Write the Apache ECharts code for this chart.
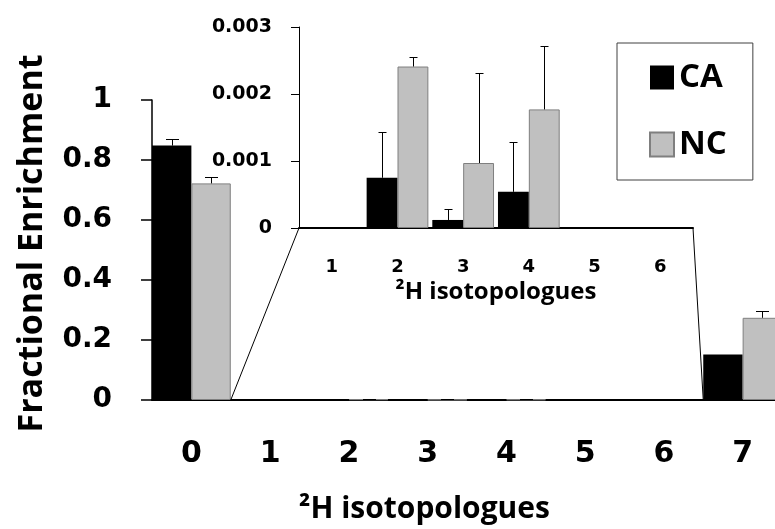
<!DOCTYPE html>
<html>
<head>
<meta charset="utf-8">
<script src="https://cdn.jsdelivr.net/npm/echarts@6/dist/echarts.min.js"></script>
<style>
  html, body { margin: 0; padding: 0; background: #fff; }
  #main { width: 775px; height: 529px; }
</style>
</head>
<body>
<div id="main"></div>
<script>
// main chart data (isotopologues 0..7)
const categories = ["0", "1", "2", "3", "4", "5", "6", "7"];
const caValues = [0.848, 0, 0.00075, 0.00012, 0.00054, 0, 0, 0.152];
const ncValues = [0.722, 0, 0.00241, 0.00097, 0.00177, 0, 0, 0.274];
const caErr = [0.021, 0, 0.00069, 0.00016, 0.00074, 0, 0, 0];
const ncErr = [0.022, 0, 0.00014, 0.00135, 0.00094, 0, 0, 0.024];

// inset: zoom on isotopologues 1..6
const insetCategories = ["1", "2", "3", "4", "5", "6"];
const insetCa = caValues.slice(1, 7);
const insetNc = ncValues.slice(1, 7);
const insetCaErr = caErr.slice(1, 7);
const insetNcErr = ncErr.slice(1, 7);

const titleFont = "Open Sans";
const digitFont = "DejaVu Sans";
const grey = "#c0c0c0";
const greyBorder = "#7f7f7f";

// empty bars (value 0) are left out so no border line is drawn on the axis
const noZero = (arr) => arr.map((v) => (v === 0 ? "-" : v));

// error bar (upper whisker only) drawn over a grouped bar
function errorSeries(axisIdx, values, errs, side, gapRatio, capW) {
  return {
    type: "custom",
    xAxisIndex: axisIdx,
    yAxisIndex: axisIdx,
    silent: true,
    z: 5,
    data: values.map((v, i) => [i, v, v + errs[i]]),
    renderItem: function (params, api) {
      const v = api.value(1);
      const top = api.value(2);
      if (!(v > 0) || !(top > v)) return;
      const band = api.size([1, 0])[0];
      const barW = (band * (1 - gapRatio)) / 2;
      const x = Math.round(api.coord([api.value(0), 0])[0] + (side * barW) / 2) + 0.5;
      const y1 = api.coord([api.value(0), v])[1];
      const y2 = Math.round(api.coord([api.value(0), top])[1]) + 0.5;
      return {
        type: "group",
        children: [
          { type: "line", shape: { x1: x, y1: y1, x2: x, y2: y2 }, style: { stroke: "#000", lineWidth: 1 } },
          { type: "line", shape: { x1: x - capW / 2, y1: y2, x2: x + capW / 2, y2: y2 }, style: { stroke: "#000", lineWidth: 1 } }
        ]
      };
    }
  };
}

const chart = echarts.init(document.getElementById("main"));

const options = {
  animation: false,
  backgroundColor: "#fff",
  legend: {
    data: ["CA", "NC"],
    orient: "vertical",
    left: 617,
    top: 43,
    icon: "rect",
    itemWidth: 24,
    itemHeight: 24,
    itemGap: 34,
    itemTextGap: 16,
    padding: [18, 26, 19, 32],
    borderColor: "#404040",
    borderWidth: 1,
    backgroundColor: "#fff",
    textStyle: { fontFamily: titleFont, fontWeight: "bold", fontSize: 33, color: "#000" }
  },
  // the main grid runs past the right edge on purpose (last bar is cut off)
  grid: [
    { left: 152, top: 100, width: 630, height: 300, outerBoundsMode: "none", containLabel: false },
    { left: 299, top: 27, width: 394, height: 201, outerBoundsMode: "none", containLabel: false }
  ],
  xAxis: [
    {
      type: "category",
      gridIndex: 0,
      data: categories,
      axisLine: { lineStyle: { color: "#000", width: 2 } },
      axisTick: { length: 11, lineStyle: { color: "#000", width: 1.5 } },
      axisLabel: { fontFamily: digitFont, fontWeight: "bold", fontSize: 30, color: "#000", margin: 39 },
      name: "²H isotopologues",
      nameLocation: "middle",
      nameGap: 94,
      nameTextStyle: { fontFamily: titleFont, fontWeight: "bold", fontSize: 30, color: "#000", padding: [0, 85, 0, 0] }
    },
    {
      type: "category",
      gridIndex: 1,
      data: insetCategories,
      axisLine: { lineStyle: { color: "#000", width: 2 } },
      axisTick: { length: 6, lineStyle: { color: "#000", width: 1 } },
      axisLabel: { fontFamily: digitFont, fontWeight: "bold", fontSize: 18, color: "#000", margin: 30 },
      name: "²H isotopologues",
      nameLocation: "middle",
      nameGap: 52,
      nameTextStyle: { fontFamily: titleFont, fontWeight: "bold", fontSize: 24, color: "#000" }
    }
  ],
  yAxis: [
    {
      type: "value",
      gridIndex: 0,
      min: 0,
      max: 1,
      interval: 0.2,
      splitLine: { show: false },
      axisLine: { show: true, lineStyle: { color: "#000", width: 1.5 } },
      axisTick: { show: true, length: 11, lineStyle: { color: "#000", width: 1.5 } },
      axisLabel: { fontFamily: digitFont, fontWeight: "bold", fontSize: 28, color: "#000", margin: 40 },
      name: "Fractional Enrichment",
      nameLocation: "middle",
      nameGap: 103,
      nameTextStyle: { fontFamily: titleFont, fontWeight: "bold", fontSize: 34, color: "#000", padding: [0, 0, 0, 13] }
    },
    {
      type: "value",
      gridIndex: 1,
      min: 0,
      max: 0.003,
      interval: 0.001,
      splitLine: { show: false },
      axisLine: { show: true, lineStyle: { color: "#000", width: 1 } },
      axisTick: { show: true, length: 8, lineStyle: { color: "#000", width: 1 } },
      axisLabel: { fontFamily: digitFont, fontWeight: "bold", fontSize: 19, color: "#000", margin: 27 }
    }
  ],
  series: [
    {
      name: "CA", type: "bar", xAxisIndex: 0, yAxisIndex: 0,
      barGap: "0%", barCategoryGap: "0%",
      itemStyle: { color: "#000" },
      data: noZero(caValues)
    },
    {
      name: "NC", type: "bar", xAxisIndex: 0, yAxisIndex: 0,
      barGap: "0%", barCategoryGap: "0%",
      itemStyle: { color: grey, borderColor: greyBorder, borderWidth: 1 },
      data: noZero(ncValues)
    },
    {
      name: "CA", type: "bar", xAxisIndex: 1, yAxisIndex: 1,
      barGap: "0%", barCategoryGap: "6%",
      itemStyle: { color: "#000" },
      data: noZero(insetCa)
    },
    {
      name: "NC", type: "bar", xAxisIndex: 1, yAxisIndex: 1,
      barGap: "0%", barCategoryGap: "6%",
      itemStyle: { color: grey, borderColor: greyBorder, borderWidth: 1 },
      data: noZero(insetNc)
    },
    errorSeries(0, caValues, caErr, -1, 0, 13),
    errorSeries(0, ncValues, ncErr, 1, 0, 13),
    errorSeries(1, insetCa, insetCaErr, -1, 0.06, 8),
    errorSeries(1, insetNc, insetNcErr, 1, 0.06, 8)
  ]
};

chart.setOption(options);

// connector lines from the inset's bottom corners down to the zoomed span on the main axis
function bandEdges(axisIdx, cats) {
  const p0 = chart.convertToPixel({ xAxisIndex: axisIdx, yAxisIndex: axisIdx }, [cats[0], 0]);
  const p1 = chart.convertToPixel({ xAxisIndex: axisIdx, yAxisIndex: axisIdx }, [cats[1], 0]);
  const pn = chart.convertToPixel({ xAxisIndex: axisIdx, yAxisIndex: axisIdx }, [cats[cats.length - 1], 0]);
  const half = (p1[0] - p0[0]) / 2;
  return { left: p0[0] - half, right: pn[0] + half, y: p0[1] };
}
const inset = bandEdges(1, insetCategories);
const mainLeft = chart.convertToPixel({ xAxisIndex: 0, yAxisIndex: 0 }, [insetCategories[0], 0]);
const mainRight = chart.convertToPixel({ xAxisIndex: 0, yAxisIndex: 0 }, [insetCategories[insetCategories.length - 1], 0]);
const mainBand = chart.convertToPixel({ xAxisIndex: 0, yAxisIndex: 0 }, [categories[1], 0])[0] -
  chart.convertToPixel({ xAxisIndex: 0, yAxisIndex: 0 }, [categories[0], 0])[0];

chart.setOption({
  graphic: [
    { type: "line", z: 10, shape: { x1: inset.left, y1: inset.y, x2: mainLeft[0] - mainBand / 2, y2: mainLeft[1] }, style: { stroke: "#000", lineWidth: 1 } },
    { type: "line", z: 10, shape: { x1: inset.right, y1: inset.y, x2: mainRight[0] + mainBand / 2, y2: mainRight[1] }, style: { stroke: "#000", lineWidth: 1 } }
  ]
});

window.addEventListener("resize", () => {
  chart.resize();
});
</script>
</body>
</html>
